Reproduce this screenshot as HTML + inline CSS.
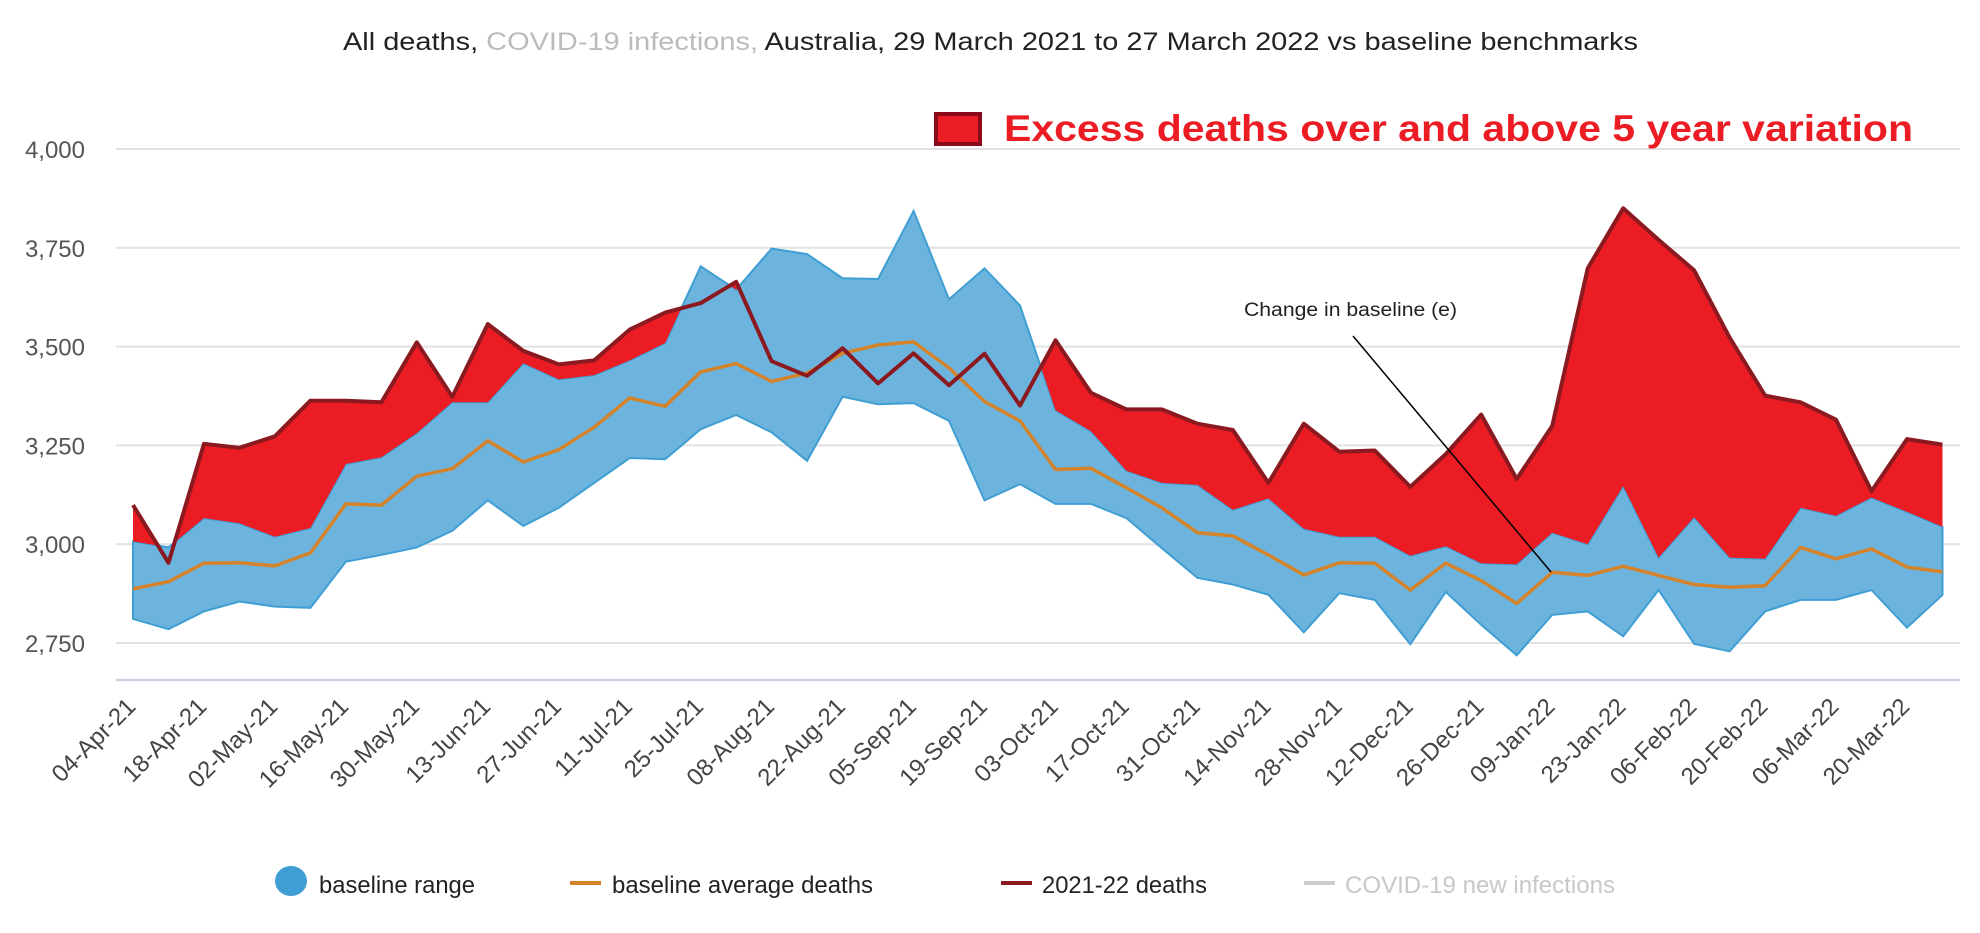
<!DOCTYPE html>
<html><head><meta charset="utf-8">
<style>
html,body{margin:0;padding:0;background:#fff;}
svg{display:block;font-family:"Liberation Sans",sans-serif;}
</style></head>
<body>
<svg id="chart" width="1980" height="933" viewBox="0 0 1980 933" xmlns="http://www.w3.org/2000/svg">
  <text x="343" y="50" font-size="25" textLength="1295" lengthAdjust="spacingAndGlyphs" fill="#222">All deaths, <tspan fill="#bbb">COVID-19 infections,</tspan> Australia, 29 March 2021 to 27 March 2022 vs baseline benchmarks</text>
  <g id="grid"></g>
  <g id="yticks"></g>
  <defs><clipPath id="aboveUpper"><polygon id="clipPoly"/></clipPath></defs>
  <polygon id="band" fill="#6cb4dd" stroke="#3f9ed3" stroke-width="2"/>
  <polygon id="excess" fill="#ec1c24" clip-path="url(#aboveUpper)"/>
  <polyline id="avgLine" fill="none" stroke="#d4832a" stroke-width="3.5" stroke-linejoin="round"/>
  <polyline id="deathLine" fill="none" stroke="#8b1a20" stroke-width="4" stroke-linejoin="round"/>
  <line x1="116" y1="680" x2="1960" y2="680" stroke="#ccd3e3" stroke-width="2.5"/>
  <g id="xticks"></g>
  <rect x="936" y="114" width="44" height="30" fill="#ec1c24" stroke="#8b0a1a" stroke-width="4"/>
  <text x="1004" y="141" font-size="37" font-weight="bold" fill="#ec1c24" textLength="909" lengthAdjust="spacingAndGlyphs">Excess deaths over and above 5 year variation</text>
  <text x="1244" y="316" font-size="19" fill="#222" textLength="213" lengthAdjust="spacingAndGlyphs">Change in baseline (e)</text>
  <line x1="1353" y1="336" x2="1551" y2="572" stroke="#000" stroke-width="1.5"/>
  <g>
    <g>
      <ellipse cx="291" cy="881" rx="16" ry="15" fill="#3f9ed3"/>
      <text x="319" y="893" font-size="24" fill="#222" textLength="156" lengthAdjust="spacingAndGlyphs">baseline range</text>
    </g>
    <g>
      <rect x="570" y="881" width="31" height="4" fill="#d4832a"/>
      <text x="612" y="893" font-size="24" fill="#222" textLength="261" lengthAdjust="spacingAndGlyphs">baseline average deaths</text>
    </g>
    <g>
      <rect x="1001" y="881" width="31" height="4" fill="#8b1a20"/>
      <text x="1042" y="893" font-size="24" fill="#222" textLength="165" lengthAdjust="spacingAndGlyphs">2021-22 deaths</text>
    </g>
    <g>
      <rect x="1304" y="881" width="31" height="4" fill="#ccc"/>
      <text x="1345" y="893" font-size="24" fill="#c8c8c8" textLength="270" lengthAdjust="spacingAndGlyphs">COVID-19 new infections</text>
    </g>
  </g>
</svg>
<script>
const yTicks = [2750, 3000, 3250, 3500, 3750, 4000];
const xLabels = ["04-Apr-21","18-Apr-21","02-May-21","16-May-21","30-May-21","13-Jun-21","27-Jun-21","11-Jul-21","25-Jul-21","08-Aug-21","22-Aug-21","05-Sep-21","19-Sep-21","03-Oct-21","17-Oct-21","31-Oct-21","14-Nov-21","28-Nov-21","12-Dec-21","26-Dec-21","09-Jan-22","23-Jan-22","06-Feb-22","20-Feb-22","06-Mar-22","20-Mar-22"];
const deaths = [3099,2953,3254,3244,3273,3363,3363,3359,3511,3373,3557,3489,3455,3465,3543,3586,3610,3664,3463,3426,3496,3407,3483,3402,3482,3351,3516,3383,3341,3341,3305,3289,3155,3305,3234,3237,3145,3228,3328,3165,3299,3698,3850,3770,3693,3523,3376,3359,3315,3134,3266,3252];
const upper = [3007,2992,3066,3053,3019,3041,3203,3220,3281,3359,3359,3458,3417,3428,3465,3509,3703,3644,3748,3734,3673,3671,3843,3620,3698,3604,3339,3286,3186,3155,3150,3087,3116,3039,3019,3019,2971,2995,2952,2949,3029,3000,3147,2966,3068,2966,2963,3092,3072,3118,3082,3044];
const lower = [2811,2785,2830,2855,2842,2839,2956,2973,2992,3034,3111,3046,3092,3155,3218,3215,3291,3327,3283,3211,3373,3354,3357,3312,3111,3152,3102,3102,3066,2990,2915,2898,2872,2777,2876,2859,2747,2879,2796,2719,2821,2830,2767,2884,2748,2729,2830,2859,2859,2884,2789,2872];
const average = [2887,2905,2952,2953,2945,2978,3102,3099,3172,3191,3262,3208,3239,3296,3370,3349,3436,3457,3412,3433,3483,3504,3512,3446,3361,3312,3189,3192,3143,3092,3029,3021,2973,2922,2953,2952,2884,2952,2908,2850,2929,2921,2944,2921,2898,2891,2895,2992,2963,2988,2942,2930];

const NS = "http://www.w3.org/2000/svg";
const X0 = 133, STEP = 35.48;
function xs(i){ return X0 + i*STEP; }
function ys(v){ return 149 + (4000 - v)*0.3952; }
function pts(arr){ return arr.map((v,i)=>xs(i).toFixed(1)+","+ys(v).toFixed(1)); }

const grid = document.getElementById('grid');
const yt = document.getElementById('yticks');
yTicks.forEach(v=>{
  const l = document.createElementNS(NS,'line');
  
  
  l.setAttribute('x1',116); l.setAttribute('x2',1960);
  l.setAttribute('y1',ys(v)); l.setAttribute('y2',ys(v));
  l.setAttribute('stroke','#e2e2e2'); l.setAttribute('stroke-width','2');
  grid.appendChild(l);
  const t = document.createElementNS(NS,'text');
  
  
  t.setAttribute('x',85); t.setAttribute('y',ys(v)+9);
  t.setAttribute('text-anchor','end'); t.setAttribute('font-size','24'); t.setAttribute('fill','#555');
  t.textContent = v.toLocaleString('en-US');
  yt.appendChild(t);
});

const xt = document.getElementById('xticks');
xLabels.forEach((s,j)=>{
  const x = xs(j*2)+4, y = 708;
  const t = document.createElementNS(NS,'text');
  
  
  t.setAttribute('x',x); t.setAttribute('y',y);
  t.setAttribute('text-anchor','end'); t.setAttribute('font-size','24'); t.setAttribute('fill','#444');
  t.setAttribute('transform','rotate(-45 '+x+' '+y+')');
  t.textContent = s;
  xt.appendChild(t);
});

const up = pts(upper), lo = pts(lower), de = pts(deaths);
document.getElementById('band').setAttribute('points', up.concat(lo.slice().reverse()).join(' '));
document.getElementById('clipPoly').setAttribute('points', up.join(' ') + ' ' + xs(upper.length-1)+',0 '+xs(0)+',0');
document.getElementById('excess').setAttribute('points', de.join(' ') + ' ' + xs(deaths.length-1)+','+ys(2600)+' '+xs(0)+','+ys(2600));
document.getElementById('avgLine').setAttribute('points', pts(average).join(' '));
document.getElementById('deathLine').setAttribute('points', de.join(' '));
</script>
</body></html>
